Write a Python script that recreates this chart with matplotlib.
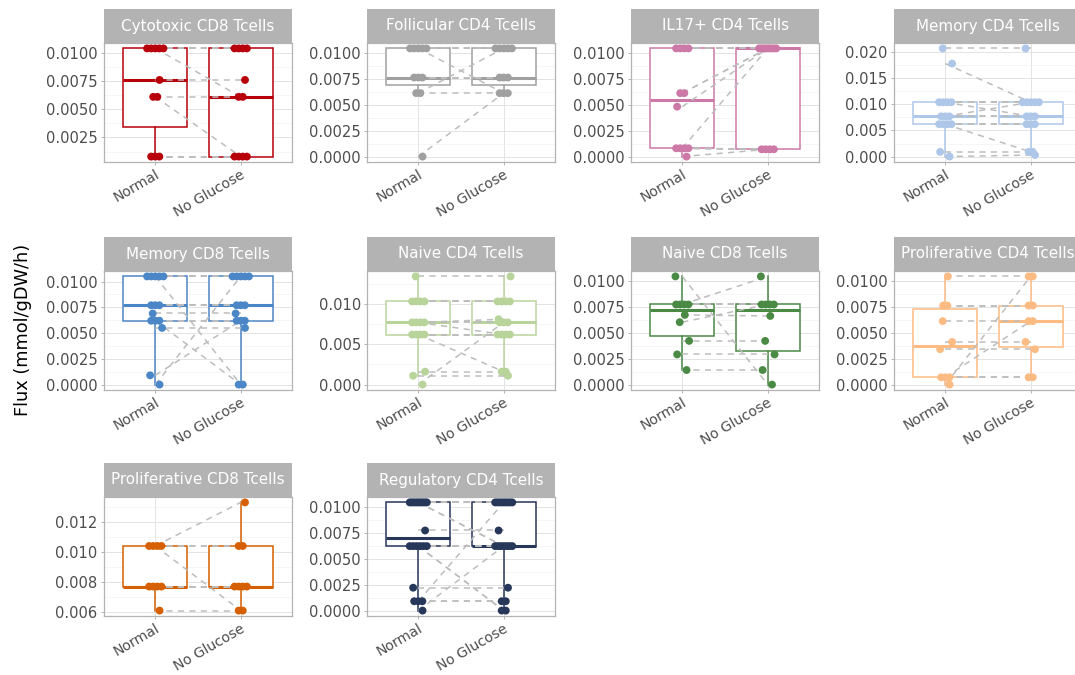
import numpy as np
import matplotlib
matplotlib.use("Agg")
import matplotlib.pyplot as plt
from matplotlib.ticker import FixedLocator, MultipleLocator

# ---------------------------------------------------------------- data
conditions = ["Normal", "No Glucose"]

cell_types = [
    "Cytotoxic CD8 Tcells", "Follicular CD4 Tcells", "IL17+ CD4 Tcells",
    "Memory CD4 Tcells", "Memory CD8 Tcells", "Naive CD4 Tcells",
    "Naive CD8 Tcells", "Proliferative CD4 Tcells", "Proliferative CD8 Tcells",
    "Regulatory CD4 Tcells",
]

panel_colors = [
    "#B8000A", "#A0A0A0", "#CC79A7", "#AEC7E8", "#4B86C6",
    "#B9D49B", "#4A8A45", "#FDBB84", "#D65F00", "#27375A",
]

# paired samples: element i of the Normal list pairs with element i of the No Glucose list
cytotoxic_cd8_normal = [0.0104, 0.0104, 0.0104, 0.0104, 0.0104, 0.0076, 0.0061, 0.0061, 0.0008, 0.0008, 0.0008]
cytotoxic_cd8_noglc = [0.0104, 0.0104, 0.0104, 0.0061, 0.0104, 0.0076, 0.0061, 0.0008, 0.0008, 0.0008, 0.0008]

follicular_cd4_normal = [0.0, 0.0061, 0.0061, 0.0076, 0.0076, 0.0076, 0.0104, 0.0104, 0.0104, 0.0104, 0.0104]
follicular_cd4_noglc = [0.0061, 0.0061, 0.0104, 0.0076, 0.0076, 0.0076, 0.0104, 0.0104, 0.0104, 0.0104, 0.0061]

il17_cd4_normal = [0.0, 0.0008, 0.0008, 0.0008, 0.0008, 0.0048, 0.0061, 0.0061, 0.0104, 0.0104, 0.0104, 0.0104]
il17_cd4_noglc = [0.0007, 0.0007, 0.0007, 0.0007, 0.0104, 0.0104, 0.0104, 0.0104, 0.0104, 0.0104, 0.0104, 0.0104]

memory_cd4_normal = [0.0, 0.0009, 0.0062, 0.0062, 0.0062, 0.0062, 0.0104, 0.0077, 0.0077, 0.0077,
                     0.0104, 0.0104, 0.0104, 0.0178, 0.0207]
memory_cd4_noglc = [0.0003, 0.0009, 0.0009, 0.0062, 0.0062, 0.0062, 0.0077, 0.0104, 0.0077, 0.0077,
                    0.0104, 0.0104, 0.0104, 0.0104, 0.0207]

memory_cd8_normal = [0.0, 0.0009, 0.0055, 0.0062, 0.0062, 0.0062, 0.0069, 0.0077, 0.0077, 0.0077,
                     0.0105, 0.0105, 0.0105, 0.0105, 0.0105]
memory_cd8_noglc = [0.0105, 0.0062, 0.0055, 0.0, 0.0062, 0.0062, 0.0069, 0.0077, 0.0077, 0.0077,
                    0.0, 0.0105, 0.0105, 0.0105, 0.0105]

naive_cd4_normal = [0.0, 0.0011, 0.0016, 0.0062, 0.0062, 0.0062, 0.0062, 0.0077, 0.0077, 0.0077,
                    0.0077, 0.0103, 0.0103, 0.0103, 0.0103, 0.0134]
naive_cd4_noglc = [0.0077, 0.0011, 0.0016, 0.0016, 0.0062, 0.0062, 0.0062, 0.0077, 0.0077, 0.0081,
                   0.0062, 0.0103, 0.0103, 0.0103, 0.0103, 0.0134]

naive_cd8_normal = [0.0104, 0.0077, 0.0077, 0.0077, 0.0077, 0.0067, 0.0060, 0.0042, 0.0029, 0.0014]
naive_cd8_noglc = [0.0, 0.0104, 0.0077, 0.0077, 0.0077, 0.0066, 0.0077, 0.0042, 0.0029, 0.0014]

prolif_cd4_normal = [0.0, 0.0007, 0.0007, 0.0007, 0.0034, 0.0041, 0.0061, 0.0076, 0.0076, 0.0104]
prolif_cd4_noglc = [0.0104, 0.0007, 0.0007, 0.0061, 0.0034, 0.0041, 0.0061, 0.0076, 0.0076, 0.0104]

prolif_cd8_normal = [0.0104, 0.0104, 0.0061, 0.0077, 0.0077, 0.0077, 0.0077, 0.0104, 0.0104]
prolif_cd8_noglc = [0.0133, 0.0061, 0.0061, 0.0077, 0.0077, 0.0077, 0.0077, 0.0104, 0.0104]

regulatory_cd4_normal = [0.0, 0.0009, 0.0009, 0.0009, 0.0022, 0.0062, 0.0062, 0.0062, 0.0062, 0.0062,
                         0.0062, 0.0077] + [0.0104] * 10
regulatory_cd4_noglc = [0.0062, 0.0009, 0.0009, 0.0104, 0.0022, 0.0, 0.0, 0.0062, 0.0062, 0.0062,
                        0.0062, 0.0077, 0.0062, 0.0062] + [0.0104] * 8

paired_values = [
    (cytotoxic_cd8_normal, cytotoxic_cd8_noglc),
    (follicular_cd4_normal, follicular_cd4_noglc),
    (il17_cd4_normal, il17_cd4_noglc),
    (memory_cd4_normal, memory_cd4_noglc),
    (memory_cd8_normal, memory_cd8_noglc),
    (naive_cd4_normal, naive_cd4_noglc),
    (naive_cd8_normal, naive_cd8_noglc),
    (prolif_cd4_normal, prolif_cd4_noglc),
    (prolif_cd8_normal, prolif_cd8_noglc),
    (regulatory_cd4_normal, regulatory_cd4_noglc),
]

# y-axis breaks and labels for each panel
y_breaks = [
    [0.0025, 0.005, 0.0075, 0.01],
    [0.0, 0.0025, 0.005, 0.0075, 0.01],
    [0.0, 0.0025, 0.005, 0.0075, 0.01],
    [0.0, 0.005, 0.01, 0.015, 0.02],
    [0.0, 0.0025, 0.005, 0.0075, 0.01],
    [0.0, 0.005, 0.01],
    [0.0, 0.0025, 0.005, 0.0075, 0.01],
    [0.0, 0.0025, 0.005, 0.0075, 0.01],
    [0.006, 0.008, 0.01, 0.012],
    [0.0, 0.0025, 0.005, 0.0075, 0.01],
]
y_decimals = [4, 4, 4, 3, 4, 3, 4, 4, 3, 4]

y_title = "Flux (mmol/gDW/h)"

# ---------------------------------------------------------------- layout (pixels)
W, H = 1075, 675
col_left = [104, 367, 631, 894]
row_top = [43, 271, 497]
panel_w, panel_h, strip_h = 188, 119, 34

BORDER = "#B3B3B3"
GRID_MAJOR = "#DEDEDE"
GRID_MINOR = "#EFEFEF"
TEXT = "#4D4D4D"
PAIR_LINE = "#BDBDBD"

plt.rcParams["font.family"] = ["DejaVu Sans"]

fig = plt.figure(figsize=(W / 100, H / 100), dpi=100)
fig.patch.set_facecolor("white")


def jitter_offsets(vals, width=0.1):
    """Spread points that share a value horizontally, deterministic."""
    vals = np.asarray(vals)
    offs = np.zeros(len(vals))
    singles = [0.05, -0.06, 0.08, -0.03, 0.03, -0.08]
    s = 0
    for v in np.unique(vals):
        idx = np.where(np.isclose(vals, v))[0]
        if len(idx) == 1:
            offs[idx[0]] = singles[s % len(singles)]
            s += 1
        else:
            w = min(width, 0.024 * (len(idx) - 1))
            offs[idx] = np.linspace(-w, w, len(idx))
    return offs


for i, (name, color, (v_norm, v_noglc)) in enumerate(zip(cell_types, panel_colors, paired_values)):
    r, c = divmod(i, 4)
    x0, y0 = col_left[c], row_top[r]
    ax = fig.add_axes([x0 / W, 1 - (y0 + panel_h) / H, panel_w / W, panel_h / H])
    sax = fig.add_axes([x0 / W, 1 - y0 / H, panel_w / W, strip_h / H])

    # strip
    sax.set_facecolor(BORDER)
    sax.set_xticks([])
    sax.set_yticks([])
    for sp in sax.spines.values():
        sp.set_visible(False)
    sax.text(0.5, 0.5, name, color="white", fontsize=10.9, ha="center", va="center",
             transform=sax.transAxes)

    a = np.asarray(v_norm)
    b = np.asarray(v_noglc)

    # boxes
    ax.boxplot([a, b], positions=[1, 2], widths=0.75, whis=1.5, showfliers=False,
               showcaps=False, patch_artist=True,
               boxprops=dict(facecolor="white", edgecolor=color, lw=1.1),
               whiskerprops=dict(color=color, lw=1.1),
               medianprops=dict(color=color, lw=2.2, solid_capstyle="butt"),
               zorder=2)

    # paired lines
    for ya, yb in zip(a, b):
        ax.plot([1, 2], [ya, yb], color=PAIR_LINE, lw=1.1, dashes=(4, 3.5), zorder=3)

    # points
    ax.scatter(1 + jitter_offsets(a), a, s=32, color=color, edgecolors="none", zorder=4)
    ax.scatter(2 + jitter_offsets(b), b, s=32, color=color, edgecolors="none", zorder=4)

    allv = np.concatenate([a, b])
    lo, hi = allv.min(), allv.max()
    pad = 0.05 * (hi - lo)
    ax.set_ylim(lo - pad, hi + pad)
    ax.set_xlim(0.4, 2.6)

    # axes, ticks, grid
    breaks = y_breaks[i]
    step = breaks[1] - breaks[0]
    ax.yaxis.set_major_locator(FixedLocator(breaks))
    ax.yaxis.set_minor_locator(MultipleLocator(step / 2))
    ax.set_yticklabels([f"{t:.{y_decimals[i]}f}" for t in breaks])
    ax.set_xticks([1, 2])
    ax.set_xticklabels(conditions)
    ax.grid(True, which="major", color=GRID_MAJOR, lw=0.6, zorder=0)
    ax.grid(True, which="minor", axis="y", color=GRID_MINOR, lw=0.4, zorder=0)
    ax.set_axisbelow(True)

    for sp in ax.spines.values():
        sp.set_color(BORDER)
        sp.set_linewidth(0.9)
    ax.tick_params(axis="y", which="major", length=2.5, width=0.7, color=BORDER,
                   labelcolor=TEXT, labelsize=10.6, pad=2)
    ax.tick_params(axis="x", which="major", length=2.5, width=0.7, color=BORDER,
                   labelcolor=TEXT, labelsize=10.1, pad=1.5)
    ax.tick_params(axis="both", which="minor", length=0)
    for lab in ax.get_xticklabels():
        lab.set_rotation(30)
        lab.set_ha("right")
        lab.set_va("top")
        lab.set_rotation_mode("anchor")

fig.text(23 / W, 1 - 330 / H, y_title, rotation=90, ha="center", va="center",
         fontsize=12.8, color="black")

fig.savefig("out.png", dpi=100, facecolor="white")
